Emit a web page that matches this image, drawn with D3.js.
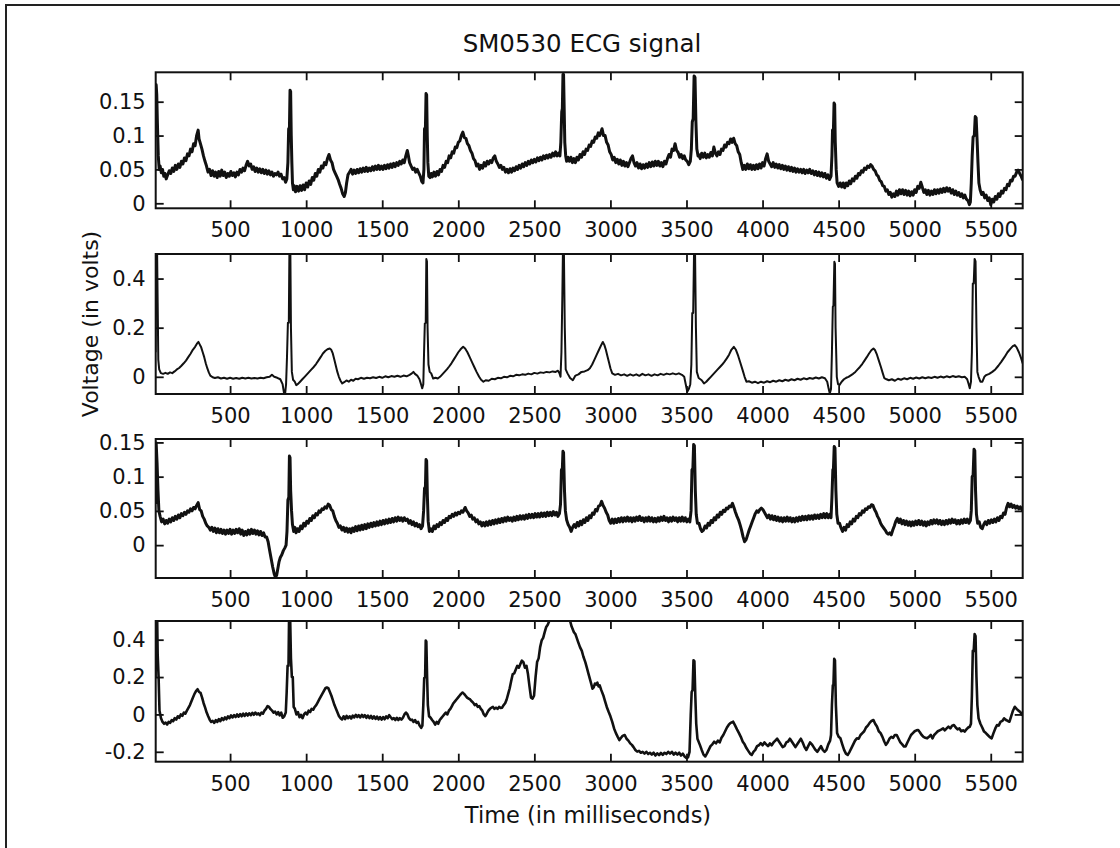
<!DOCTYPE html>
<html><head><meta charset="utf-8">
<script src="https://cdn.jsdelivr.net/npm/d3@7"></script>
<style>
html,body{margin:0;padding:0;background:#fff;}
svg{display:block;}
</style></head>
<body>
<svg id="chart" width="1120" height="848"></svg>
<script>
const titleText = "SM0530 ECG signal";
const xLabelText = "Time (in milliseconds)";
const yLabelText = "Voltage (in volts)";
const xDomain = [11, 5710];
const xTicks = [500,1000,1500,2000,2500,3000,3500,4000,4500,5000,5500];
const yTicks1 = [0,0.05,0.1,0.15];
const yTicks2 = [0,0.2,0.4];
const yTicks3 = [0,0.05,0.1,0.15];
const yTicks4 = [-0.2,0,0.2,0.4];
const yDomain1 = [-0.0074,0.1934];
const yDomain2 = [-0.07,0.5];
const yDomain3 = [-0.048,0.155];
const yDomain4 = [-0.253,0.5];

const ecg1 = [[10,0.13],[14,0.175],[18,0.16],[22,0.12],[28,0.07],[34,0.05],[40,0.055],[48,0.045],[56,0.05],[64,0.04],[72,0.044],[80,0.036],[90,0.042],[100,0.048],
[110,0.044],[120,0.052],[130,0.047],[140,0.056],[150,0.05],[160,0.058],[170,0.053],[180,0.062],[190,0.058],[200,0.067],[210,0.063],[220,0.073],[230,0.07],[240,0.08],[250,0.076],[260,0.088],[270,0.085],[280,0.1],[290,0.108],[296,0.095],[305,0.088],[315,0.08],[325,0.07],[335,0.062],[345,0.055],[355,0.046],[365,0.05],[375,0.041],[385,0.048],[395,0.04],[405,0.046],[415,0.038],[425,0.047],[435,0.04],[445,0.049],[455,0.041],[465,0.046],[475,0.038],[485,0.044],[495,0.04],[505,0.047],[515,0.041],[525,0.045],[535,0.039],[545,0.046],[555,0.042],[565,0.05],[575,0.046],[585,0.052],[595,0.048],[605,0.056],[615,0.062],[625,0.055],[635,0.058],[645,0.05],[655,0.054],[665,0.047],[675,0.052],[685,0.046],[695,0.051],[705,0.045],[715,0.05],[725,0.044],[735,0.049],[745,0.043],[755,0.048],[765,0.042],[775,0.046],[785,0.04],[795,0.044],[805,0.042],[815,0.046],[825,0.04],[835,0.043],[845,0.036],[855,0.038],[865,0.031],[873,0.036],[880,0.06],[885,0.11],[890,0.11],[894,0.167],[898,0.165],[902,0.1],[906,0.06],[910,0.03],[916,0.02],[922,0.026],[930,0.017],[940,0.025],[950,0.018],[960,0.026],[970,0.019],[980,0.027],[990,0.02],[1000,0.03],[1010,0.024],[1020,0.033],[1030,0.028],[1040,0.038],[1050,0.034],[1060,0.044],[1070,0.04],[1080,0.05],[1090,0.046],[1100,0.055],[1110,0.052],[1120,0.06],[1130,0.057],[1140,0.066],[1150,0.072],[1160,0.064],[1170,0.06],[1180,0.05],[1190,0.045],[1200,0.04],[1210,0.035],[1220,0.028],[1230,0.022],[1240,0.014],[1250,0.01],[1258,0.016],[1266,0.03],[1275,0.042],[1285,0.046],
[1295,0.05],[1305,0.043],[1315,0.049],[1325,0.044],[1335,0.05],[1345,0.045],[1355,0.051],[1365,0.046],[1375,0.052],[1385,0.047],[1395,0.053],[1405,0.047],[1415,0.052],[1425,0.048],[1435,0.054],[1445,0.049],[1455,0.055],[1465,0.05],[1475,0.056],[1485,0.05],[1495,0.055],[1505,0.05],[1515,0.056],[1525,0.051],[1535,0.057],[1545,0.052],[1555,0.058],[1565,0.053],[1575,0.059],[1585,0.054],[1595,0.06],[1605,0.056],[1615,0.062],[1625,0.058],[1635,0.064],[1645,0.06],[1655,0.07],[1665,0.078],[1672,0.07],[1680,0.06],[1690,0.055],[1700,0.05],[1710,0.052],[1720,0.046],[1730,0.05],[1740,0.045],[1750,0.04],[1760,0.032],[1768,0.03],[1774,0.05],[1778,0.11],[1784,0.112],[1788,0.162],[1792,0.16],[1796,0.1],[1800,0.06],[1806,0.04],[1814,0.038],[1822,0.044],[1830,0.039],[1840,0.046],[1850,0.04],[1860,0.047],[1870,0.042],[1880,0.05],[1890,0.047],[1900,0.056],[1910,0.053],[1920,0.062],[1930,0.06],[1940,0.07],[1950,0.067],[1960,0.076],[1970,0.074],[1980,0.083],[1990,0.082],[2000,0.09],[2010,0.092],[2020,0.1],[2030,0.105],[2040,0.097],[2050,0.096],[2060,0.088],[2070,0.085],[2080,0.078],[2090,0.074],[2100,0.066],[2110,0.063],[2120,0.055],[2130,0.058],[2140,0.05],[2150,0.056],[2160,0.052],[2170,0.06],[2180,0.055],[2190,0.062],[2200,0.058],[2210,0.063],[2220,0.06],[2230,0.067],[2240,0.07],[2250,0.062],[2260,0.058],[2270,0.053],[2280,0.056],[2290,0.05],[2300,0.053],[2310,0.046],[2320,0.05],[2330,0.045],[2340,0.051],[2350,0.046],[2360,0.052],[2370,0.048],[2380,0.054],[2390,0.05],[2400,0.056],[2410,0.052],[2420,0.058],[2430,0.054],[2440,0.06],[2450,0.056],[2460,0.062],[2470,0.058],[2480,0.064],[2490,0.06],[2500,0.065],[2510,0.061],[2520,0.067],[2530,0.063],[2540,0.068],[2550,0.064],[2560,0.07],[2570,0.066],[2580,0.071],[2590,0.067],[2600,0.072],[2610,0.068],[2620,0.074],[2630,0.07],[2640,0.076],[2650,0.07],[2660,0.074],[2668,0.07],[2674,0.09],[2680,0.135],[2684,0.14],[2688,0.19],[2692,0.19],[2696,0.14],[2700,0.09],[2706,0.07],[2712,0.062],
[2720,0.068],[2730,0.062],[2740,0.068],[2750,0.06],[2760,0.066],[2770,0.06],[2780,0.068],[2790,0.064],[2800,0.072],[2810,0.068],[2820,0.076],[2830,0.072],[2840,0.08],[2850,0.078],[2860,0.086],[2870,0.084],[2880,0.092],[2890,0.09],[2900,0.098],[2910,0.096],[2920,0.104],[2930,0.1],[2945,0.11],[2955,0.1],[2965,0.1],[2975,0.09],[2985,0.086],[2995,0.076],[3005,0.072],[3015,0.064],[3025,0.068],[3035,0.06],[3045,0.065],[3055,0.058],[3065,0.064],[3075,0.056],[3085,0.062],[3095,0.055],[3105,0.06],[3115,0.054],[3125,0.06],[3135,0.066],[3145,0.07],[3155,0.06],[3165,0.055],[3175,0.06],[3185,0.052],[3195,0.058],[3205,0.051],[3215,0.057],[3225,0.052],[3235,0.058],[3245,0.053],[3255,0.06],[3265,0.054],[3275,0.061],[3285,0.055],[3295,0.062],[3305,0.056],[3315,0.062],[3325,0.055],[3335,0.06],[3345,0.054],[3355,0.062],[3365,0.058],[3375,0.066],[3385,0.072],[3395,0.068],[3405,0.08],[3415,0.078],[3425,0.088],[3435,0.078],[3445,0.075],[3455,0.068],[3465,0.072],[3475,0.066],[3485,0.07],[3495,0.064],[3505,0.062],[3515,0.057],[3525,0.062],[3532,0.08],[3538,0.12],[3544,0.125],[3550,0.188],[3556,0.186],[3562,0.12],[3568,0.08],[3576,0.07],
[3580,0.072],[3590,0.066],[3600,0.074],[3610,0.068],[3620,0.074],[3630,0.067],[3640,0.072],[3650,0.068],[3660,0.075],[3670,0.07],[3680,0.083],[3690,0.074],[3700,0.07],[3710,0.076],[3720,0.072],[3730,0.08],[3740,0.078],[3750,0.086],[3760,0.083],[3770,0.09],[3780,0.088],[3790,0.095],[3800,0.09],[3810,0.096],[3820,0.088],[3830,0.085],[3840,0.076],[3850,0.072],[3860,0.06],[3870,0.05],[3880,0.056],[3890,0.05],[3900,0.058],[3910,0.051],[3920,0.057],[3930,0.05],[3940,0.056],[3950,0.05],[3960,0.057],[3970,0.051],[3980,0.058],[3990,0.052],[4000,0.06],[4010,0.055],[4020,0.066],[4030,0.073],[4040,0.062],[4050,0.058],[4060,0.054],[4070,0.06],[4080,0.053],[4090,0.058],[4100,0.052],[4110,0.057],[4120,0.051],[4130,0.056],[4140,0.05],[4150,0.055],[4160,0.049],[4170,0.054],[4180,0.048],[4190,0.053],[4200,0.047],[4210,0.052],[4220,0.046],[4230,0.051],[4240,0.046],[4250,0.05],[4260,0.045],[4270,0.05],[4280,0.044],[4290,0.049],[4300,0.045],[4310,0.05],[4320,0.044],[4330,0.048],[4340,0.042],[4350,0.047],[4360,0.041],[4370,0.046],[4380,0.04],[4390,0.045],[4400,0.039],[4410,0.044],[4420,0.037],[4430,0.042],[4440,0.035],[4450,0.04],[4456,0.07],[4460,0.108],[4466,0.11],[4470,0.148],[4474,0.146],[4478,0.09],[4484,0.05],[4490,0.03],[4500,0.025],
[4510,0.03],[4520,0.024],[4530,0.03],[4540,0.023],[4550,0.03],[4560,0.026],[4570,0.033],[4580,0.029],[4590,0.036],[4600,0.033],[4610,0.04],[4620,0.037],[4630,0.044],[4640,0.042],[4650,0.048],[4660,0.046],[4670,0.052],[4680,0.05],[4690,0.055],[4700,0.053],[4710,0.057],[4720,0.055],[4730,0.05],[4740,0.048],[4750,0.042],[4760,0.04],[4770,0.034],[4780,0.032],[4790,0.026],[4800,0.025],[4810,0.018],[4820,0.02],[4830,0.013],[4840,0.016],[4850,0.009],[4860,0.014],[4870,0.01],[4880,0.018],[4890,0.012],[4900,0.02],[4910,0.014],[4920,0.02],[4930,0.013],[4940,0.019],[4950,0.012],[4960,0.018],[4970,0.011],[4980,0.017],[4990,0.012],[5000,0.02],[5010,0.016],[5020,0.025],[5030,0.022],[5040,0.031],[5050,0.024],[5060,0.016],[5070,0.02],[5080,0.013],[5090,0.019],[5100,0.012],[5110,0.018],[5120,0.013],[5130,0.02],[5140,0.014],[5150,0.02],[5160,0.015],[5170,0.021],[5180,0.016],[5190,0.022],[5200,0.017],[5210,0.023],[5220,0.018],[5230,0.022],[5240,0.015],[5250,0.02],[5260,0.013],[5270,0.018],[5280,0.012],[5290,0.016],[5300,0.01],[5310,0.014],[5320,0.008],[5330,0.012],[5340,0.006],[5350,0.004],[5360,-0.002],[5366,0.002],[5372,0.03],[5378,0.07],[5384,0.098],[5392,0.1],[5398,0.128],[5404,0.126],[5410,0.095],[5416,0.06],[5422,0.03],[5430,0.02],[5440,0.013],[5450,0.016],[5460,0.008],[5470,0.012],[5480,0.004],[5490,0.008],[5500,-0.002],[5510,0.006],[5520,0.002],[5530,0.01],[5540,0.006],[5550,0.014],[5560,0.01],[5570,0.018],[5580,0.015],[5590,0.022],[5600,0.02],[5610,0.028],[5620,0.026],[5630,0.034],[5640,0.033],[5650,0.04],[5660,0.04],[5670,0.046],[5680,0.049],[5690,0.044],[5700,0.04],[5710,0.034]];

const ecg2 = [[10,0.1],[14,0.52],[20,0.52],[24,0.3],[28,0.07],[34,0.03],[45,0.015],[60,0.012],[75,0.016],[90,0.012],[105,0.018],[120,0.015],[135,0.022],[150,0.03],[165,0.036],[180,0.045],[195,0.055],[210,0.066],[225,0.08],[240,0.094],[255,0.11],[270,0.122],[282,0.135],[292,0.142],[300,0.132],[310,0.12],[320,0.1],[330,0.08],[340,0.055],[350,0.035],[360,0.018],[370,0.005],[385,-0.002],[400,-0.005],[420,-0.002],[440,-0.007],[460,-0.004],[480,-0.008],[500,-0.004],[520,-0.008],[540,-0.005],[560,-0.008],[580,-0.004],[600,-0.007],[620,-0.004],[640,-0.007],[660,-0.005],[680,-0.007],[700,-0.004],[720,-0.006],[740,-0.002],[760,0.0],[775,0.008],[790,0.0],[810,-0.004],[830,-0.01],[845,-0.03],[855,-0.068],[862,-0.068],[868,-0.03],[874,0.08],[880,0.22],[886,0.22],[890,0.52],[896,0.52],[900,0.2],[906,0.02],[914,-0.012],[925,-0.02],[935,-0.034],[945,-0.03],[960,-0.02],[975,-0.01],[990,0.0],[1005,0.01],[1020,0.02],[1035,0.03],[1050,0.04],[1065,0.052],[1080,0.066],[1095,0.08],[1110,0.095],[1125,0.105],[1140,0.112],[1155,0.115],[1165,0.11],[1175,0.095],[1185,0.07],[1195,0.045],[1205,0.02],[1215,0.0],[1225,-0.015],[1237,-0.027],[1250,-0.022],[1265,-0.015],[1280,-0.02],[1295,-0.012],[1310,-0.016],[1325,-0.008],[1340,-0.01],[1360,-0.004],[1380,-0.008],[1400,-0.004],[1420,-0.006],[1440,-0.002],[1460,-0.005],[1480,0.0],[1500,-0.004],[1520,0.002],[1540,-0.002],[1560,0.003],[1580,0.0],[1600,0.004],[1620,0.0],[1640,0.005],[1660,0.002],[1680,0.008],[1695,0.014],[1705,0.02],[1715,0.012],[1730,0.005],[1745,-0.01],[1755,-0.03],[1763,-0.047],[1770,-0.03],[1775,0.1],[1780,0.217],[1786,0.22],[1790,0.48],[1794,0.47],[1798,0.2],[1804,0.05],[1812,0.02],[1822,0.014],[1835,-0.007],[1850,-0.004],[1865,-0.007],[1880,0.0],[1895,0.01],[1910,0.02],[1925,0.03],[1940,0.042],[1955,0.055],[1970,0.07],[1985,0.085],[2000,0.1],[2015,0.112],[2032,0.122],[2045,0.115],[2060,0.1],[2075,0.08],[2090,0.06],[2105,0.04],[2120,0.02],[2137,0.0],[2150,-0.012],[2165,-0.02],[2180,-0.014],[2200,-0.016],[2220,-0.008],[2240,-0.01],[2260,-0.004],[2280,-0.006],[2300,0.0],[2320,-0.002],[2340,0.004],[2360,0.002],[2380,0.008],[2400,0.006],[2420,0.01],[2440,0.008],[2460,0.013],[2480,0.01],[2500,0.016],[2520,0.013],[2540,0.018],[2560,0.016],[2580,0.02],[2600,0.018],[2620,0.022],[2640,0.02],[2655,0.025],[2665,0.015],[2672,0.0],[2678,0.1],[2684,0.33],[2688,0.52],[2694,0.52],[2700,0.2],[2706,0.03],[2718,0.014],[2735,-0.005],[2753,-0.014],[2770,0.005],[2790,0.01],[2810,0.02],[2830,0.022],[2850,0.027],[2865,0.035],[2880,0.05],[2895,0.07],[2910,0.09],[2925,0.11],[2940,0.13],[2950,0.142],[2960,0.13],[2970,0.11],[2980,0.085],[2990,0.06],[3000,0.035],[3012,0.014],[3030,0.008],[3050,0.012],[3070,0.006],[3090,0.01],[3110,0.004],[3130,0.01],[3150,0.005],[3170,0.01],[3190,0.004],[3210,0.012],[3230,0.006],[3250,0.01],[3270,0.004],[3290,0.01],[3310,0.006],[3330,0.012],[3350,0.008],[3370,0.013],[3390,0.01],[3410,0.014],[3430,0.01],[3450,0.014],[3470,0.008],[3485,0.0],[3495,-0.03],[3505,-0.061],[3515,-0.05],[3525,-0.03],[3532,0.05],[3538,0.26],[3544,0.26],[3550,0.52],[3556,0.52],[3562,0.2],[3568,0.02],[3580,-0.005],[3600,-0.014],[3615,-0.027],[3630,-0.02],[3645,-0.01],[3660,0.0],[3675,0.01],[3690,0.02],[3705,0.03],[3720,0.04],[3735,0.05],[3750,0.062],[3765,0.075],[3780,0.09],[3795,0.11],[3811,0.122],[3825,0.11],[3840,0.085],[3855,0.055],[3870,0.025],[3882,0.0],[3894,-0.02],[3910,-0.018],[3930,-0.024],[3950,-0.02],[3970,-0.026],[3990,-0.02],[4010,-0.024],[4030,-0.018],[4050,-0.022],[4070,-0.016],[4090,-0.02],[4110,-0.014],[4130,-0.018],[4150,-0.012],[4170,-0.016],[4190,-0.01],[4210,-0.014],[4230,-0.008],[4250,-0.012],[4270,-0.006],[4290,-0.01],[4310,-0.005],[4330,-0.008],[4350,-0.003],[4370,-0.007],[4390,-0.002],[4410,-0.006],[4425,-0.02],[4435,-0.05],[4442,-0.068],[4450,-0.05],[4456,0.1],[4462,0.285],[4466,0.29],[4472,0.468],[4476,0.46],[4480,0.2],[4488,0.0],[4496,-0.03],[4505,-0.034],[4520,-0.02],[4535,-0.01],[4550,-0.004],[4565,0.0],[4580,0.006],[4595,0.012],[4610,0.02],[4625,0.03],[4640,0.04],[4655,0.052],[4670,0.066],[4685,0.08],[4700,0.095],[4715,0.108],[4729,0.115],[4740,0.108],[4752,0.09],[4765,0.065],[4778,0.04],[4790,0.015],[4800,-0.005],[4815,-0.01],[4830,-0.014],[4850,-0.01],[4870,-0.016],[4890,-0.008],[4910,-0.012],[4930,-0.006],[4950,-0.01],[4970,-0.004],[4990,-0.008],[5010,-0.003],[5030,-0.007],[5050,-0.002],[5070,-0.006],[5090,-0.002],[5110,-0.005],[5130,0.0],[5150,-0.004],[5170,0.001],[5190,-0.003],[5210,0.002],[5230,-0.002],[5250,0.003],[5270,-0.001],[5290,0.002],[5310,-0.002],[5330,0.0],[5345,-0.01],[5355,-0.03],[5362,-0.047],[5370,-0.02],[5376,0.1],[5382,0.38],[5388,0.38],[5394,0.48],[5400,0.47],[5406,0.2],[5412,0.02],[5420,0.0],[5432,-0.02],[5445,-0.02],[5458,0.0],[5470,0.007],[5490,0.012],[5510,0.02],[5530,0.03],[5550,0.045],[5570,0.062],[5590,0.08],[5610,0.1],[5630,0.115],[5645,0.125],[5658,0.129],[5670,0.12],[5685,0.1],[5700,0.075],[5710,0.054]];

const ecg3 = [[10,0.06],[14,0.149],[20,0.12],[26,0.08],[32,0.05],[40,0.042],[50,0.034],[60,0.038],[70,0.031],[80,0.036],[90,0.032],[100,0.038],[110,0.034],[120,0.04],[130,0.036],[140,0.042],[150,0.038],[160,0.044],[170,0.04],[180,0.046],[190,0.043],[200,0.048],[210,0.045],[220,0.05],[230,0.048],[240,0.053],[250,0.05],[260,0.055],[270,0.053],[280,0.058],[290,0.062],[300,0.052],[310,0.05],[320,0.042],[330,0.038],[340,0.032],[350,0.028],[360,0.026],[370,0.022],[380,0.026],[390,0.02],[400,0.025],[410,0.018],[420,0.024],[430,0.018],[440,0.023],[450,0.017],[460,0.022],[470,0.016],[480,0.022],[490,0.017],[500,0.023],[510,0.016],[520,0.022],[530,0.017],[540,0.023],[550,0.018],[560,0.024],[570,0.016],[580,0.022],[590,0.014],[600,0.02],[610,0.015],[620,0.022],[630,0.016],[640,0.023],[650,0.017],[660,0.022],[670,0.016],[680,0.021],[690,0.015],[700,0.02],[710,0.014],[720,0.018],[730,0.012],[740,0.012],[750,0.005],[760,-0.008],[770,-0.02],[780,-0.032],[790,-0.042],[798,-0.047],[806,-0.044],[814,-0.034],[822,-0.024],[830,-0.018],[840,-0.014],[850,-0.008],[860,-0.004],[868,0.0],[874,0.02],[880,0.066],[886,0.07],[890,0.13],[894,0.128],[898,0.08],[904,0.05],[910,0.03],[918,0.02],[926,0.026],[934,0.018],[944,0.024],[954,0.02],[964,0.028],[974,0.024],[984,0.032],[994,0.028],[1004,0.035],[1014,0.032],[1024,0.039],[1034,0.036],[1044,0.043],[1054,0.04],[1064,0.046],[1074,0.044],[1084,0.05],[1094,0.048],[1104,0.053],[1114,0.052],[1124,0.056],[1134,0.054],[1145,0.06],[1155,0.058],[1165,0.052],[1175,0.05],[1185,0.042],[1195,0.036],[1205,0.032],[1215,0.026],[1225,0.028],[1235,0.022],[1245,0.026],[1255,0.02],[1265,0.025],[1275,0.019],[1285,0.024],[1295,0.018],[1305,0.025],[1315,0.02],[1325,0.027],[1335,0.021],[1345,0.028],[1355,0.022],[1365,0.029],[1375,0.023],[1385,0.03],[1395,0.024],[1405,0.031],[1415,0.026],[1425,0.032],[1435,0.027],[1445,0.033],[1455,0.028],[1465,0.034],[1475,0.029],[1485,0.035],[1495,0.03],[1505,0.036],[1515,0.031],[1525,0.037],[1535,0.032],[1545,0.038],[1555,0.033],[1565,0.039],[1575,0.034],[1585,0.04],[1595,0.035],[1605,0.041],[1615,0.036],[1625,0.04],[1635,0.035],[1645,0.04],[1655,0.036],[1665,0.038],[1675,0.032],[1685,0.036],[1695,0.03],[1705,0.034],[1715,0.028],[1725,0.032],[1735,0.027],[1745,0.03],[1755,0.024],[1765,0.028],[1772,0.05],[1778,0.083],[1784,0.085],[1788,0.125],[1792,0.123],[1797,0.07],[1802,0.035],[1810,0.02],[1820,0.024],[1830,0.02],[1840,0.028],[1850,0.024],[1860,0.03],[1870,0.027],[1880,0.033],[1890,0.03],[1900,0.036],[1910,0.033],[1920,0.039],[1930,0.036],[1940,0.042],[1950,0.04],[1960,0.045],[1970,0.042],[1980,0.047],[1990,0.044],[2000,0.048],[2010,0.046],[2020,0.05],[2030,0.048],[2045,0.055],[2055,0.05],[2065,0.047],[2075,0.042],[2085,0.044],[2095,0.038],[2105,0.04],[2115,0.034],[2125,0.037],[2135,0.031],[2145,0.034],[2155,0.028],[2165,0.033],[2175,0.028],[2185,0.034],[2195,0.029],[2205,0.035],[2215,0.03],[2225,0.036],[2235,0.031],[2245,0.037],[2255,0.032],[2265,0.038],[2275,0.033],[2285,0.039],[2295,0.034],[2305,0.04],[2315,0.035],[2325,0.041],[2335,0.036],[2345,0.04],[2355,0.035],[2365,0.041],[2375,0.036],[2385,0.042],[2395,0.037],[2405,0.043],[2415,0.038],[2425,0.043],[2435,0.038],[2445,0.044],[2455,0.039],[2465,0.045],[2475,0.04],[2485,0.045],[2495,0.04],[2505,0.046],[2515,0.041],[2525,0.046],[2535,0.041],[2545,0.047],[2555,0.042],[2565,0.047],[2575,0.042],[2585,0.048],[2595,0.043],[2605,0.048],[2615,0.043],[2625,0.049],[2635,0.044],[2645,0.048],[2655,0.042],[2665,0.046],[2672,0.06],[2678,0.11],[2684,0.112],[2688,0.137],[2692,0.135],[2698,0.08],[2704,0.05],[2712,0.037],[2722,0.03],[2732,0.026],[2742,0.02],[2752,0.026],[2762,0.03],[2772,0.026],[2782,0.033],[2792,0.028],[2802,0.035],[2812,0.03],[2822,0.037],[2832,0.033],[2842,0.04],[2852,0.036],[2862,0.043],[2872,0.04],[2882,0.047],[2892,0.045],[2902,0.052],[2912,0.05],[2922,0.057],[2932,0.058],[2942,0.064],[2952,0.058],[2962,0.054],[2972,0.048],[2982,0.044],[2992,0.036],[3002,0.032],[3012,0.038],[3022,0.032],[3032,0.038],[3042,0.033],[3052,0.039],[3062,0.034],[3072,0.04],[3082,0.034],[3092,0.04],[3102,0.035],[3112,0.041],[3122,0.035],[3132,0.04],[3142,0.034],[3152,0.04],[3162,0.035],[3172,0.041],[3182,0.036],[3192,0.042],[3202,0.036],[3212,0.04],[3222,0.034],[3232,0.04],[3242,0.035],[3252,0.041],[3262,0.035],[3272,0.04],[3282,0.034],[3292,0.039],[3302,0.034],[3312,0.04],[3322,0.035],[3332,0.041],[3342,0.036],[3352,0.042],[3362,0.036],[3372,0.04],[3382,0.034],[3392,0.04],[3402,0.035],[3412,0.041],[3422,0.036],[3432,0.04],[3442,0.034],[3452,0.04],[3462,0.035],[3472,0.041],[3482,0.035],[3492,0.04],[3502,0.034],[3512,0.038],[3522,0.034],[3530,0.05],[3536,0.11],[3542,0.112],[3547,0.147],[3552,0.145],[3558,0.08],[3564,0.045],[3572,0.032],[3582,0.032],[3592,0.024],[3602,0.02],[3612,0.022],[3622,0.028],[3632,0.025],[3642,0.032],[3652,0.029],[3662,0.036],[3672,0.033],[3682,0.04],[3692,0.037],[3702,0.044],[3712,0.041],[3722,0.048],[3732,0.045],[3742,0.051],[3752,0.049],[3762,0.054],[3772,0.053],[3782,0.057],[3792,0.056],[3802,0.061],[3812,0.055],[3822,0.048],[3832,0.042],[3842,0.037],[3852,0.03],[3862,0.022],[3872,0.012],[3882,0.005],[3892,0.008],[3902,0.015],[3912,0.022],[3922,0.028],[3932,0.034],[3942,0.04],[3952,0.046],[3962,0.05],[3972,0.048],[3982,0.052],[3992,0.054],[4002,0.052],[4012,0.048],[4022,0.044],[4032,0.04],[4042,0.044],[4052,0.038],[4062,0.043],[4072,0.037],[4082,0.042],[4092,0.036],[4102,0.041],[4112,0.035],[4122,0.04],[4132,0.034],[4142,0.04],[4152,0.035],[4162,0.041],[4172,0.035],[4182,0.04],[4192,0.034],[4202,0.039],[4212,0.034],[4222,0.04],[4232,0.035],[4242,0.041],[4252,0.036],[4262,0.042],[4272,0.037],[4282,0.042],[4292,0.037],[4302,0.043],[4312,0.038],[4322,0.043],[4332,0.038],[4342,0.044],[4352,0.039],[4362,0.044],[4372,0.039],[4382,0.045],[4392,0.04],[4402,0.046],[4412,0.04],[4422,0.046],[4432,0.04],[4442,0.045],[4450,0.04],[4456,0.07],[4462,0.11],[4466,0.112],[4471,0.144],[4476,0.142],[4482,0.08],[4488,0.045],[4496,0.032],[4506,0.032],[4516,0.025],[4526,0.02],[4536,0.026],[4546,0.022],[4556,0.03],[4566,0.027],[4576,0.034],[4586,0.031],[4596,0.038],[4606,0.035],[4616,0.042],[4626,0.04],[4636,0.046],[4646,0.044],[4656,0.05],[4666,0.048],[4676,0.053],[4686,0.052],[4696,0.056],[4706,0.055],[4716,0.059],[4726,0.058],[4736,0.052],[4746,0.048],[4756,0.042],[4766,0.038],[4776,0.032],[4786,0.028],[4796,0.025],[4806,0.022],[4816,0.018],[4826,0.016],[4836,0.018],[4846,0.015],[4856,0.022],[4866,0.028],[4876,0.035],[4886,0.039],[4896,0.033],[4906,0.038],[4916,0.031],[4926,0.036],[4936,0.03],[4946,0.035],[4956,0.029],[4966,0.034],[4976,0.028],[4986,0.034],[4996,0.029],[5006,0.035],[5016,0.03],[5026,0.036],[5036,0.03],[5046,0.035],[5056,0.029],[5066,0.034],[5076,0.028],[5086,0.034],[5096,0.03],[5106,0.036],[5116,0.031],[5126,0.037],[5136,0.032],[5146,0.037],[5156,0.031],[5166,0.036],[5176,0.03],[5186,0.035],[5196,0.03],[5206,0.036],[5216,0.031],[5226,0.037],[5236,0.032],[5246,0.038],[5256,0.033],[5266,0.037],[5276,0.031],[5286,0.036],[5296,0.031],[5306,0.037],[5316,0.032],[5326,0.038],[5336,0.033],[5346,0.038],[5356,0.032],[5366,0.036],[5372,0.05],[5378,0.1],[5384,0.102],[5390,0.14],[5395,0.138],[5400,0.08],[5406,0.045],[5414,0.032],[5424,0.034],[5434,0.026],[5444,0.024],[5454,0.03],[5464,0.034],[5474,0.03],[5484,0.036],[5494,0.032],[5504,0.037],[5514,0.033],[5524,0.038],[5534,0.034],[5544,0.04],[5554,0.036],[5564,0.042],[5574,0.04],[5584,0.047],[5594,0.045],[5604,0.055],[5614,0.061],[5624,0.056],[5634,0.06],[5644,0.055],[5654,0.058],[5664,0.054],[5674,0.057],[5684,0.053],[5694,0.056],[5704,0.052],[5710,0.05]];

const ecg4 = [[10,0.2],[14,0.55],[20,0.55],[24,0.32],[30,0.2],[36,0.02],[46,-0.02],[56,-0.04],[66,-0.05],[76,-0.044],[86,-0.054],[96,-0.04],[106,-0.045],[116,-0.03],[126,-0.036],[136,-0.02],[146,-0.028],[156,-0.01],[166,-0.018],[176,0.0],[186,-0.008],[196,0.01],[206,0.004],[216,0.02],[226,0.035],[236,0.05],[246,0.07],[256,0.09],[266,0.11],[276,0.125],[286,0.135],[296,0.12],[306,0.115],[316,0.09],[326,0.06],[336,0.036],[346,0.01],[356,-0.01],[366,-0.028],[376,-0.04],[386,-0.035],[396,-0.045],[406,-0.03],[416,-0.04],[426,-0.025],[436,-0.036],[446,-0.02],[456,-0.03],[466,-0.016],[476,-0.026],[486,-0.01],[496,-0.02],[506,-0.005],[516,-0.016],[526,-0.004],[536,-0.014],[546,0.0],[556,-0.012],[566,0.002],[576,-0.01],[586,0.004],[596,-0.008],[606,0.005],[616,-0.006],[626,0.006],[636,-0.004],[646,0.008],[656,-0.002],[666,0.01],[676,0.0],[686,0.006],[696,-0.004],[706,0.01],[716,0.004],[726,0.02],[736,0.03],[746,0.045],[756,0.04],[766,0.028],[776,0.02],[786,0.01],[796,0.015],[806,0.0],[816,0.012],[826,-0.005],[836,0.01],[846,-0.018],[856,-0.01],[866,0.01],[872,0.12],[878,0.26],[884,0.26],[888,0.55],[894,0.55],[900,0.3],[906,0.2],[912,0.2],[918,0.04],[926,0.03],[936,0.0],[946,0.012],[956,-0.015],[966,-0.002],[976,-0.02],[986,0.0],[996,0.01],[1006,0.0],[1016,0.02],[1026,0.012],[1036,0.03],[1046,0.025],[1056,0.04],[1066,0.05],[1076,0.065],[1086,0.08],[1096,0.095],[1106,0.11],[1116,0.125],[1126,0.14],[1136,0.144],[1146,0.14],[1156,0.12],[1166,0.1],[1176,0.075],[1186,0.05],[1196,0.03],[1206,0.01],[1216,-0.01],[1226,-0.02],[1236,-0.027],[1246,-0.01],[1256,-0.025],[1266,-0.008],[1276,-0.02],[1286,-0.01],[1296,-0.022],[1306,-0.006],[1316,-0.016],[1326,-0.002],[1336,-0.014],[1346,-0.004],[1356,-0.016],[1366,-0.002],[1376,-0.014],[1386,-0.004],[1396,-0.018],[1406,-0.006],[1416,-0.02],[1426,-0.008],[1436,-0.022],[1446,-0.01],[1456,-0.024],[1466,-0.012],[1476,-0.026],[1486,-0.014],[1496,-0.028],[1506,-0.014],[1516,-0.026],[1526,-0.01],[1536,-0.02],[1546,-0.004],[1556,-0.015],[1566,-0.025],[1576,-0.02],[1586,-0.03],[1596,-0.018],[1606,-0.03],[1616,-0.02],[1626,-0.028],[1636,-0.018],[1646,0.0],[1656,0.01],[1666,0.0],[1676,-0.02],[1686,-0.03],[1696,-0.028],[1706,-0.04],[1716,-0.03],[1726,-0.045],[1736,-0.04],[1746,-0.06],[1756,-0.072],[1764,-0.06],[1770,0.05],[1776,0.194],[1782,0.2],[1786,0.396],[1790,0.39],[1795,0.2],[1800,0.05],[1808,-0.01],[1818,-0.018],[1828,-0.03],[1838,-0.04],[1848,-0.054],[1858,-0.04],[1868,-0.05],[1878,-0.03],[1888,-0.02],[1898,-0.01],[1908,0.0],[1918,0.01],[1928,0.0],[1938,0.02],[1948,0.03],[1958,0.045],[1968,0.06],[1978,0.07],[1988,0.08],[1998,0.09],[2008,0.1],[2018,0.11],[2028,0.117],[2038,0.11],[2048,0.1],[2058,0.09],[2068,0.085],[2078,0.08],[2088,0.07],[2098,0.063],[2108,0.05],[2118,0.055],[2128,0.04],[2138,0.045],[2148,0.03],[2158,0.02],[2168,0.0],[2178,-0.009],[2188,0.005],[2198,0.02],[2208,0.03],[2218,0.036],[2228,0.04],[2238,0.03],[2248,0.036],[2258,0.03],[2268,0.04],[2278,0.035],[2288,0.036],[2298,0.05],[2308,0.06],[2318,0.08],[2328,0.11],[2338,0.14],[2348,0.18],[2358,0.216],[2368,0.22],[2378,0.24],[2388,0.26],[2398,0.25],[2408,0.27],[2418,0.288],[2428,0.28],[2438,0.25],[2448,0.26],[2458,0.216],[2468,0.15],[2478,0.09],[2488,0.085],[2498,0.1],[2508,0.2],[2518,0.28],[2528,0.3],[2538,0.36],[2548,0.396],[2558,0.41],[2568,0.44],[2578,0.468],[2588,0.48],[2598,0.5],[2608,0.53],[2618,0.55],[2640,0.58],[2660,0.6],[2680,0.65],[2690,0.9],[2700,0.65],[2720,0.56],[2735,0.5],[2745,0.47],[2760,0.44],[2770,0.43],[2788,0.387],[2800,0.36],[2812,0.34],[2822,0.31],[2835,0.28],[2845,0.25],[2855,0.22],[2865,0.19],[2875,0.16],[2882,0.138],[2890,0.145],[2898,0.165],[2906,0.16],[2914,0.17],[2922,0.15],[2929,0.156],[2940,0.13],[2953,0.103],[2965,0.07],[2976,0.04],[2988,0.014],[3000,-0.01],[3012,-0.04],[3024,-0.075],[3036,-0.1],[3048,-0.12],[3059,-0.137],[3070,-0.125],[3080,-0.115],[3094,-0.11],[3106,-0.13],[3118,-0.14],[3130,-0.155],[3141,-0.163],[3152,-0.175],[3164,-0.19],[3176,-0.199],[3188,-0.195],[3200,-0.205],[3212,-0.2],[3224,-0.21],[3236,-0.2],[3248,-0.212],[3260,-0.205],[3272,-0.215],[3284,-0.205],[3296,-0.22],[3308,-0.208],[3320,-0.218],[3332,-0.206],[3344,-0.216],[3356,-0.205],[3368,-0.212],[3380,-0.2],[3392,-0.21],[3404,-0.2],[3416,-0.215],[3428,-0.205],[3440,-0.215],[3452,-0.205],[3464,-0.22],[3476,-0.21],[3488,-0.225],[3500,-0.234],[3510,-0.23],[3520,-0.2],[3528,0.0],[3534,0.12],[3540,0.13],[3546,0.29],[3552,0.285],[3558,0.1],[3564,-0.05],[3572,-0.13],[3588,-0.163],[3600,-0.19],[3612,-0.215],[3623,-0.225],[3634,-0.21],[3646,-0.19],[3658,-0.17],[3670,-0.16],[3682,-0.146],[3694,-0.155],[3706,-0.14],[3718,-0.15],[3730,-0.125],[3742,-0.11],[3754,-0.09],[3766,-0.07],[3778,-0.055],[3790,-0.045],[3807,-0.039],[3820,-0.06],[3832,-0.08],[3845,-0.1],[3857,-0.12],[3870,-0.146],[3882,-0.16],[3894,-0.18],[3906,-0.195],[3918,-0.21],[3929,-0.217],[3940,-0.2],[3952,-0.19],[3964,-0.17],[3976,-0.165],[3988,-0.154],[4000,-0.165],[4012,-0.15],[4024,-0.16],[4036,-0.17],[4048,-0.155],[4060,-0.165],[4072,-0.15],[4084,-0.14],[4096,-0.13],[4108,-0.145],[4120,-0.16],[4132,-0.175],[4144,-0.17],[4156,-0.15],[4168,-0.145],[4180,-0.13],[4192,-0.145],[4204,-0.16],[4216,-0.175],[4228,-0.16],[4240,-0.145],[4252,-0.13],[4264,-0.15],[4276,-0.175],[4288,-0.19],[4300,-0.17],[4312,-0.15],[4324,-0.16],[4336,-0.175],[4348,-0.19],[4360,-0.2],[4372,-0.185],[4384,-0.17],[4396,-0.19],[4408,-0.2],[4420,-0.19],[4432,-0.16],[4444,-0.14],[4450,-0.11],[4456,0.05],[4462,0.156],[4466,0.16],[4471,0.298],[4476,0.29],[4482,0.05],[4490,-0.1],[4500,-0.12],[4512,-0.128],[4524,-0.16],[4536,-0.19],[4548,-0.21],[4560,-0.217],[4572,-0.2],[4584,-0.18],[4596,-0.16],[4608,-0.14],[4620,-0.128],[4632,-0.13],[4644,-0.11],[4656,-0.1],[4668,-0.09],[4680,-0.07],[4692,-0.06],[4704,-0.045],[4716,-0.035],[4729,-0.03],[4740,-0.05],[4752,-0.065],[4764,-0.09],[4776,-0.1],[4788,-0.12],[4800,-0.145],[4811,-0.163],[4822,-0.15],[4834,-0.13],[4846,-0.12],[4858,-0.125],[4870,-0.11],[4882,-0.11],[4894,-0.13],[4906,-0.15],[4918,-0.16],[4930,-0.172],[4940,-0.172],[4952,-0.15],[4964,-0.13],[4976,-0.11],[4988,-0.1],[5000,-0.09],[5012,-0.085],[5023,-0.083],[5034,-0.095],[5046,-0.11],[5058,-0.12],[5070,-0.125],[5082,-0.128],[5094,-0.12],[5106,-0.11],[5117,-0.128],[5128,-0.11],[5140,-0.1],[5152,-0.09],[5164,-0.085],[5176,-0.08],[5187,-0.075],[5198,-0.085],[5210,-0.075],[5222,-0.065],[5234,-0.075],[5246,-0.06],[5258,-0.057],[5270,-0.07],[5282,-0.08],[5294,-0.075],[5306,-0.09],[5318,-0.085],[5328,-0.092],[5340,-0.08],[5352,-0.07],[5362,-0.066],[5370,-0.05],[5376,0.1],[5382,0.34],[5388,0.34],[5394,0.43],[5400,0.42],[5406,0.2],[5412,0.05],[5420,-0.021],[5432,-0.05],[5444,-0.07],[5456,-0.092],[5468,-0.1],[5480,-0.11],[5492,-0.12],[5506,-0.128],[5518,-0.1],[5530,-0.075],[5541,-0.057],[5552,-0.06],[5564,-0.04],[5576,-0.035],[5588,-0.021],[5600,-0.03],[5612,-0.035],[5623,-0.039],[5634,-0.01],[5646,0.02],[5658,0.041],[5670,0.03],[5682,0.02],[5693,0.014],[5704,0.0],[5710,-0.004]];

const panels = [
  {data: ecg1, dom: yDomain1, ticks: yTicks1, top: 72.3, bottom: 208.3, sw: 3.0},
  {data: ecg2, dom: yDomain2, ticks: yTicks2, top: 254, bottom: 394, sw: 2.0},
  {data: ecg3, dom: yDomain3, ticks: yTicks3, top: 439, bottom: 578, sw: 3.0},
  {data: ecg4, dom: yDomain4, ticks: yTicks4, top: 621, bottom: 761.7, sw: 2.6}
];

const svg = d3.select("#chart");
const left = 155.7, right = 1022.7;
const FONT = "'DejaVu Sans', sans-serif";
const ink = "#111";

svg.append("rect").attr("width",1120).attr("height",848).attr("fill","#fff");
svg.append("line").attr("x1",6).attr("x2",6).attr("y1",5).attr("y2",848).attr("stroke","#222").attr("stroke-width",2);
svg.append("line").attr("x1",5).attr("x2",1120).attr("y1",5).attr("y2",5).attr("stroke","#222").attr("stroke-width",2);

const x = d3.scaleLinear().domain(xDomain).range([left, right]);
const fmt = d => (d === 0 ? "0" : String(d));

panels.forEach((p, i) => {
  const y = d3.scaleLinear().domain(p.dom).range([p.bottom, p.top]);
  const g = svg.append("g");
  const cid = "clip" + i;
  svg.append("clipPath").attr("id", cid).append("rect")
    .attr("x", left).attr("y", p.top).attr("width", right - left).attr("height", p.bottom - p.top);

  const line = d3.line().x(d => x(d[0])).y(d => y(d[1]));
  g.append("path").datum(p.data).attr("clip-path", `url(#${cid})`)
    .attr("d", line).attr("fill", "none").attr("stroke", ink)
    .attr("stroke-width", p.sw).attr("stroke-linejoin", "round");

  const style = sel => {
    sel.select(".domain").remove();
    sel.selectAll(".tick line").attr("stroke", ink).attr("stroke-width", 1.8);
    sel.selectAll(".tick text").attr("fill", ink).style("font-family", FONT).style("font-size", "21px");
  };
  g.append("g").attr("transform", `translate(0,${p.bottom})`)
    .call(d3.axisBottom(x).tickValues(xTicks).tickSize(-8).tickSizeOuter(0).tickPadding(14).tickFormat(d3.format("d")))
    .call(style);
  g.append("g").attr("transform", `translate(0,${p.top})`)
    .call(d3.axisTop(x).tickValues(xTicks).tickSize(-8).tickSizeOuter(0).tickFormat(""))
    .call(style);
  g.append("g").attr("transform", `translate(${left},0)`)
    .call(d3.axisLeft(y).tickValues(p.ticks).tickSize(-8).tickSizeOuter(0).tickPadding(10).tickFormat(fmt))
    .call(style);
  g.append("g").attr("transform", `translate(${right},0)`)
    .call(d3.axisRight(y).tickValues(p.ticks).tickSize(-8).tickSizeOuter(0).tickFormat(""))
    .call(style);

  g.append("rect").attr("x", left).attr("y", p.top).attr("width", right - left).attr("height", p.bottom - p.top)
    .attr("fill", "none").attr("stroke", ink).attr("stroke-width", 2);
});

svg.append("text").attr("x", 582).attr("y", 52).attr("text-anchor", "middle")
  .style("font-family", FONT).style("font-size", "24.5px").attr("fill", ink).text(titleText);
svg.append("text").attr("x", 588).attr("y", 823).attr("text-anchor", "middle")
  .style("font-family", FONT).style("font-size", "22.5px").attr("fill", ink).text(xLabelText);
svg.append("text").attr("transform", "translate(98,324) rotate(-90)").attr("text-anchor", "middle")
  .style("font-family", FONT).style("font-size", "22px").attr("fill", ink).text(yLabelText);
</script>
</body></html>
